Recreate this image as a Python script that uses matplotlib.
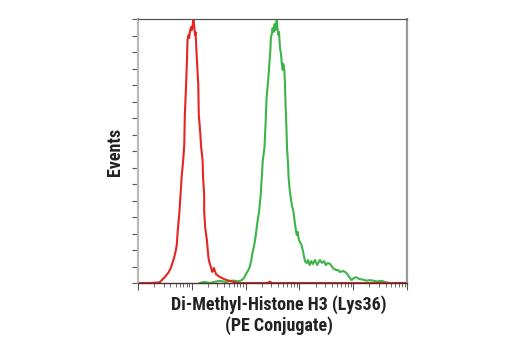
import numpy as np
import matplotlib
matplotlib.use("Agg")
import matplotlib.pyplot as plt
from matplotlib.ticker import FixedLocator, LogLocator, NullFormatter

# Fluorescence intensity in decades (log10) and relative event counts (% of max)
red_log = [0.04, 0.22, 0.37, 0.41, 0.50, 0.56, 0.61, 0.64, 0.67, 0.70, 0.72, 0.74, 0.77,
           0.79, 0.81, 0.84, 0.86, 0.87, 0.89, 0.91, 0.92, 0.94, 0.95, 0.97, 0.99, 1.00,
           1.03, 1.04, 1.06, 1.07, 1.09, 1.12, 1.13, 1.16, 1.17, 1.20, 1.21, 1.23, 1.23,
           1.25, 1.28, 1.31, 1.33, 1.36, 1.38, 1.40, 1.41, 1.43, 1.45, 1.49, 1.52, 1.56,
           1.60, 1.65, 1.71, 1.78, 1.86, 2.40, 2.45, 2.50, 3.50, 5.00]
red_events = [0.0, 0.0, 0.2, 0.4, 2.3, 3.8, 5.7, 7.6, 9.5, 12.1, 14.4, 20.1, 26.9,
              33.3, 39.8, 46.6, 52.3, 63.6, 73.1, 84.5, 92.0, 93.9, 92.8, 95.8, 97.0, 95.8,
              99.6, 98.1, 93.9, 95.0, 86.4, 75.0, 63.6, 56.1, 52.3, 46.6, 39.8, 33.3, 26.9,
              20.8, 16.3, 9.5, 7.6, 5.7, 4.2, 4.9, 5.7, 4.5, 3.4, 2.7, 2.3, 1.9,
              1.5, 1.1, 0.8, 0.4, 0.0, 0.0, 0.5, 0.0, 0.0, 0.0]

green_log = [1.15, 1.23, 1.34, 1.41, 1.52, 1.64, 1.71, 1.78, 1.86, 1.93, 1.97, 2.02, 2.04,
             2.07, 2.10, 2.12, 2.16, 2.19, 2.22, 2.25, 2.28, 2.30, 2.32, 2.35, 2.37, 2.39,
             2.42, 2.44, 2.46, 2.47, 2.49, 2.50, 2.52, 2.54, 2.55, 2.58, 2.59, 2.61, 2.62,
             2.64, 2.66, 2.67, 2.69, 2.70, 2.72, 2.73, 2.74, 2.75, 2.76, 2.77, 2.79, 2.80,
             2.82, 2.84, 2.86, 2.89, 2.92, 2.95, 2.97, 2.99, 3.04, 3.07, 3.09, 3.11, 3.14,
             3.16, 3.19, 3.22, 3.25, 3.29, 3.33, 3.36, 3.38, 3.42, 3.46, 3.49, 3.53, 3.57,
             3.61, 3.64, 3.69, 3.72, 3.75, 3.81, 3.85, 3.89, 3.90, 3.94, 3.97, 4.01, 4.06,
             4.11, 4.18, 4.24, 4.31, 4.37, 4.44, 4.53, 4.59, 4.68, 5.00]
green_events = [0.0, 0.4, 0.0, 0.4, 0.8, 0.4, 0.8, 0.9, 0.6, 1.1, 1.9, 3.8, 4.5,
                5.7, 8.0, 10.6, 14.4, 18.2, 23.1, 26.9, 33.3, 39.8, 46.6, 51.1, 59.8, 70.1,
                76.9, 82.6, 88.3, 92.8, 94.7, 96.5, 95.1, 98.1, 95.8, 100.0, 96.6, 93.9, 95.1,
                89.0, 86.4, 83.7, 80.7, 83.0, 80.7, 76.1, 69.3, 63.6, 58.0, 51.1, 44.7, 39.8,
                35.2, 32.2, 29.5, 26.9, 22.0, 18.2, 19.3, 16.3, 14.4, 11.7, 9.5, 8.0, 7.6,
                8.7, 6.8, 8.3, 7.2, 8.7, 6.8, 8.0, 8.7, 7.6, 8.3, 6.8, 7.6, 7.2,
                6.1, 5.3, 4.9, 4.9, 4.2, 4.5, 4.2, 3.4, 3.0, 1.9, 1.1, 1.9, 2.2,
                1.5, 1.3, 0.9, 1.1, 0.9, 0.6, 0.8, 0.4, 0.0, 0.0]

x_label = "Di-Methyl-Histone H3 (Lys36)\n(PE Conjugate)"
y_label = "Events"

RED = "#e82422"
GREEN = "#3bb54a"

font = ["Roboto Condensed", "DejaVu Sans"]

fig = plt.figure(figsize=(5.2, 3.5), dpi=100)
ax = fig.add_axes([0.2654, 0.1914, 0.5173, 0.7543])

ax.plot(10 ** np.array(green_log), green_events, color=GREEN, lw=1.5)
ax.plot(10 ** np.array(red_log), red_events, color=RED, lw=1.5)

ax.set_xscale("log")
ax.set_xlim(1, 1e5)
ax.set_ylim(0, 100)

ax.xaxis.set_major_locator(LogLocator(base=10, numticks=10))
ax.xaxis.set_minor_locator(LogLocator(base=10, subs=np.arange(2, 10), numticks=100))
ax.xaxis.set_major_formatter(NullFormatter())
ax.xaxis.set_minor_formatter(NullFormatter())
ax.yaxis.set_major_locator(FixedLocator(np.arange(0, 100.1, 6.25)))
ax.yaxis.set_major_formatter(NullFormatter())

ax.tick_params(axis="x", which="major", direction="out", length=5, width=0.8, color="#555555")
ax.tick_params(axis="x", which="minor", direction="out", length=3, width=0.6, color="#555555")
ax.tick_params(axis="y", which="major", direction="out", length=4, width=0.8, color="#555555")

ax.spines["top"].set_color("#555555")
ax.spines["top"].set_linewidth(0.9)
ax.spines["bottom"].set_color("#4a3030")
ax.spines["bottom"].set_linewidth(1.0)
ax.spines["left"].set_color("#bbbbbb")
ax.spines["left"].set_linewidth(1.6)
ax.spines["right"].set_color("#999999")
ax.spines["right"].set_linewidth(1.6)

fig.text(0.221, 0.566, y_label, rotation=90, ha="center", va="center",
         fontsize=13, fontweight="bold", family=font, color="#222222")
fig.text(0.537, 0.10, x_label, ha="center", va="center", linespacing=1.15,
         fontsize=13, fontweight="bold", family=font, color="#222222")

fig.savefig("out.png", dpi=100)
